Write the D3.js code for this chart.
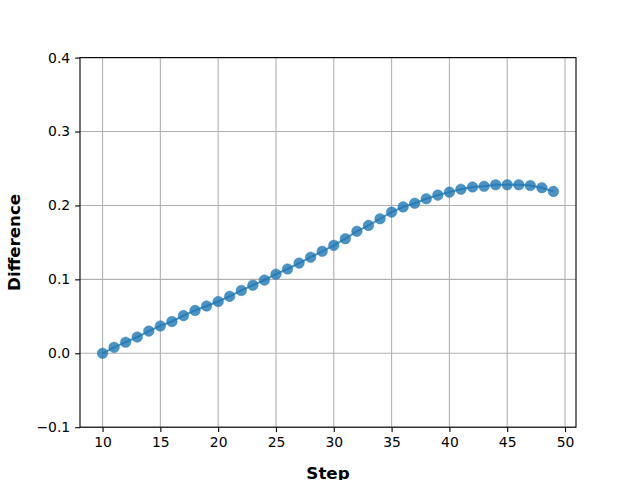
<!DOCTYPE html>
<html><head><meta charset="utf-8">
<script src="https://cdn.jsdelivr.net/npm/d3@7"></script>
<style>body{margin:0;background:#fff}svg{display:block}text{font-family:"DejaVu Sans",sans-serif}</style>
</head><body>
<svg id="c" width="640" height="480"></svg>
<script>
const steps = d3.range(10, 50);
const differences = [0.000,0.008,0.015,0.022,0.030,0.037,0.043,0.051,0.058,0.064,
  0.070,0.077,0.085,0.092,0.099,0.107,0.114,0.122,0.130,0.138,
  0.146,0.155,0.165,0.173,0.182,0.191,0.198,0.203,0.209,0.214,
  0.218,0.222,0.225,0.226,0.228,0.228,0.228,0.227,0.224,0.219];
const xTicks = [10,15,20,25,30,35,40,45,50];
const yTicks = [-0.1,0.0,0.1,0.2,0.3,0.4];
const xLabel = "Step", yLabel = "Difference";

const svg = d3.select("#c");
const L=80,R=576,T=57.6,B=427.2;
const x = d3.scaleLinear().domain([8.05,50.95]).range([L,R]);
const y = d3.scaleLinear().domain([-0.1,0.4]).range([B,T]);
const data = steps.map((s,i)=>({s,v:differences[i]}));

// grid
const g = svg.append("g");
g.selectAll(".gx").data(xTicks).join("line").attr("x1",d=>x(d)).attr("x2",d=>x(d)).attr("y1",T).attr("y2",B)
 .attr("stroke","#b0b0b0").attr("stroke-width",1.1);
g.selectAll(".gy").data(yTicks).join("line").attr("y1",d=>y(d)).attr("y2",d=>y(d)).attr("x1",L).attr("x2",R)
 .attr("stroke","#b0b0b0").attr("stroke-width",1.1);

// line + points
svg.append("path").datum(data).attr("fill","none").attr("stroke","#1f77b4").attr("stroke-opacity",0.8).attr("stroke-width",2)
 .attr("d",d3.line().x(d=>x(d.s)).y(d=>y(d.v)));
svg.append("g").selectAll("circle").data(data).join("circle").attr("cx",d=>x(d.s)).attr("cy",d=>y(d.v)).attr("r",5.3)
 .attr("fill","#1f77b4").attr("fill-opacity",0.8).attr("stroke","#1f77b4").attr("stroke-opacity",0.8).attr("stroke-width",0.5);

// axes
const xa = svg.append("g").attr("transform",`translate(0,${B})`).call(d3.axisBottom(x).tickValues(xTicks).tickSize(4.9).tickPadding(4.9).tickFormat(d3.format("d")));
const ya = svg.append("g").attr("transform",`translate(${L},0)`).call(d3.axisLeft(y).tickValues(yTicks).tickSize(4.9).tickPadding(4.9).tickFormat(d3.format(".1f")));
[xa,ya].forEach(a=>{a.select(".domain").remove();a.selectAll("text").attr("font-size",13.9).attr("fill","#000").attr("font-family","DejaVu Sans");a.selectAll("line").attr("stroke","#000").attr("stroke-width",1.1);});
ya.selectAll("text").text(d=>d3.format(".1f")(d).replace("-","\u2212"));

svg.append("rect").attr("x",L).attr("y",T).attr("width",R-L).attr("height",B-T).attr("fill","none").attr("stroke","#000").attr("stroke-width",1.1);

svg.append("text").attr("x",(L+R)/2).attr("y",479).attr("text-anchor","middle").attr("font-size",16.7).attr("font-weight","bold").text(xLabel);
svg.append("text").attr("transform",`translate(20,${(T+B)/2}) rotate(-90)`).attr("text-anchor","middle").attr("font-size",16.7).attr("font-weight","bold").text(yLabel);
</script>
</body></html>
